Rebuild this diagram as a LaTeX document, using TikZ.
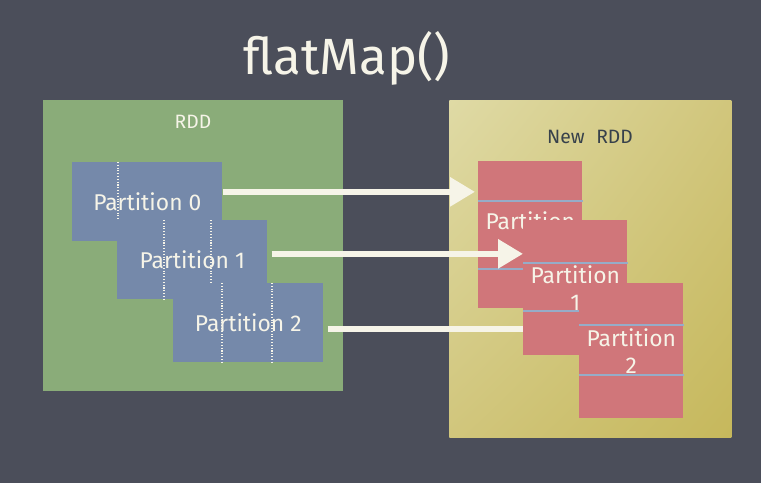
\documentclass[tikz,border=0pt]{standalone}
\usepackage{fontspec}
\setmainfont{Fira Sans}
\usetikzlibrary{arrows.meta}
\usetikzlibrary{calc}
\usetikzlibrary{shadings}

\definecolor{board}{RGB}{75,78,90}
\definecolor{rddgreen}{RGB}{138,172,121}
\definecolor{partblue}{RGB}{117,137,170}
\definecolor{partred}{RGB}{208,118,122}
\definecolor{newlight}{RGB}{223,218,165}
\definecolor{newmid}{RGB}{209,198,124}
\definecolor{newdark}{RGB}{198,184,92}
\definecolor{chalk}{RGB}{246,244,232}
\definecolor{seam}{RGB}{150,172,200}
\definecolor{labeldark}{RGB}{55,65,75}

\tikzset{
	oldpart/.style={fill=partblue, anchor=north west, minimum width=3cm, minimum height=1.58cm, inner sep=0pt},
	newpart/.style={fill=partred, anchor=north west, minimum width=2.08cm, minimum height=2.7cm, inner sep=0pt, text=chalk, align=center, font=\fontsize{13}{15.5}\selectfont},
	parttext/.style={text=chalk, font=\fontsize{13}{15.5}\selectfont},
	boxlabel/.style={font=\fontsize{11}{13}\selectfont},
	gridline/.style={chalk, densely dotted, line width=0.6pt},
	seamline/.style={seam, line width=0.8pt},
	chalkarrow/.style={chalk, line width=0.12cm, -{Triangle[length=0.5cm,width=0.56cm]}}
}

\begin{document}
\begin{tikzpicture}[x=0.02cm, y=-0.02cm]

	%board
	\fill[board] (0,0) rectangle (761,483);

	%title
	\node[text=chalk, font=\fontsize{29}{35}\selectfont] (Title) at (347,58) {flatMap()};

	%source rdd
	\node[fill=rddgreen, anchor=north west, minimum width=6cm, minimum height=5.82cm, inner sep=0pt] (RddBox) at (43,100) {};
	\node[boxlabel, text=chalk] (RddLabel) at (193,122) {RDD};

	\node[oldpart] (Part0) at (72,162) {};
	\draw[gridline] ($(Part0.north west)+(46,0)$) -- ($(Part0.south west)+(46,0)$);
	\node[parttext] (Part0Label) at (Part0) {Partition 0};

	\node[oldpart] (Part1) at (117,220) {};
	\draw[gridline] ($(Part1.north west)+(47,0)$) -- ($(Part1.south west)+(47,0)$);
	\draw[gridline] ($(Part1.north west)+(94,0)$) -- ($(Part1.south west)+(94,0)$);
	\node[parttext] (Part1Label) at (Part1) {Partition 1};

	\node[oldpart] (Part2) at (173,283) {};
	\draw[gridline] ($(Part2.north west)+(49,0)$) -- ($(Part2.south west)+(49,0)$);
	\draw[gridline] ($(Part2.north west)+(99,0)$) -- ($(Part2.south west)+(99,0)$);
	\node[parttext] (Part2Label) at (Part2) {Partition 2};

	%new rdd
	\node[anchor=north west, minimum width=5.64cm, minimum height=6.74cm, inner sep=0pt, shade, upper left=newlight, upper right=newmid, lower left=newmid, lower right=newdark] (NewRddBox) at (449,100) {};
	\node[boxlabel, text=labeldark] (NewRddLabel) at (590,137) {New\hspace{0.6em}RDD};

	%slots of the new partitions
	\coordinate (NewSlot1) at (523,220);
	\coordinate (NewSlot2) at (579,283);

	%third arrow, under the new partitions
	\coordinate (Arrow2Start) at ($(Part2.east)+(4,6)$);
	\draw[chalkarrow] (Arrow2Start) -- (Arrow2Start -| NewSlot2);

	\node[newpart, minimum height=2.94cm] (NewPart0) at (478,161) {Partition\\0};
	\draw[seamline] ($(NewPart0.north west)+(0,40)$) -- ($(NewPart0.north east)+(0,40)$);
	\draw[seamline] ($(NewPart0.north west)+(0,108)$) -- ($(NewPart0.north east)+(0,108)$);

	%first and second arrow
	\coordinate (Arrow0Start) at ($(Part0.east)+(0,-10)$);
	\draw[chalkarrow] (Arrow0Start) -- ($(Arrow0Start -| NewPart0.west)+(-3,0)$);
	\coordinate (Arrow1Start) at ($(Part1.east)+(4,-6)$);
	\draw[chalkarrow] (Arrow1Start) -- (Arrow1Start -| NewSlot1);

	\node[newpart] (NewPart1) at (NewSlot1) {Partition\\1};
	\draw[seamline] ($(NewPart1.north west)+(0,43)$) -- ($(NewPart1.north east)+(0,43)$);
	\draw[seamline] ($(NewPart1.north west)+(0,91)$) -- ($(NewPart1.north east)+(0,91)$);

	\node[newpart] (NewPart2) at (NewSlot2) {Partition\\2};
	\draw[seamline] ($(NewPart2.north west)+(0,42)$) -- ($(NewPart2.north east)+(0,42)$);
	\draw[seamline] ($(NewPart2.north west)+(0,92)$) -- ($(NewPart2.north east)+(0,92)$);
\end{tikzpicture}
\end{document}
